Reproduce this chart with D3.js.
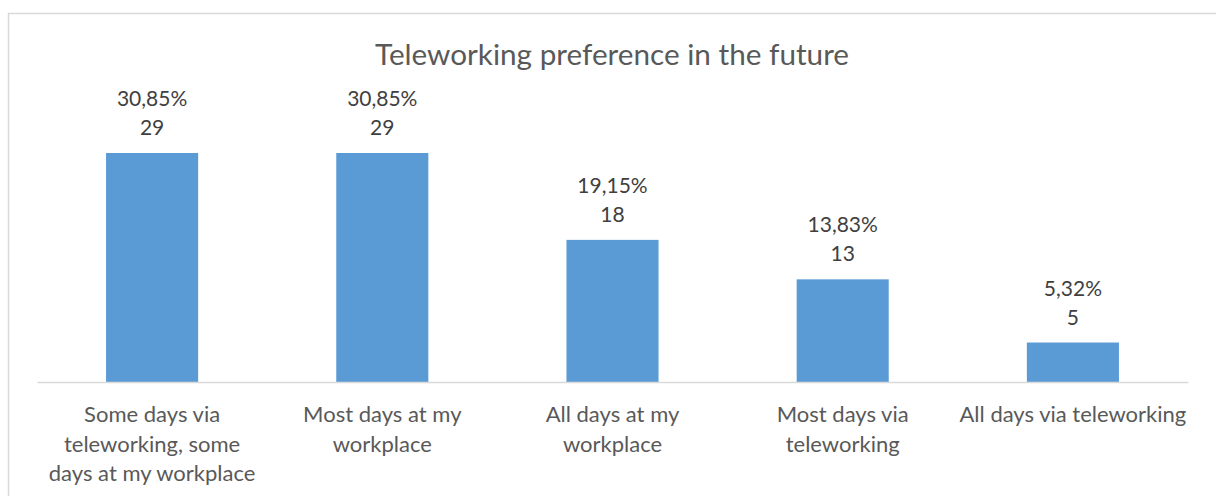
<!DOCTYPE html>
<html>
<head>
<meta charset="utf-8">
<script src="https://cdn.jsdelivr.net/npm/d3@7"></script>
<style>
  html, body { margin: 0; padding: 0; background: #fff; }
  svg { display: block; }
</style>
</head>
<body>
<svg id="chart" width="1216" height="496"></svg>
<script>
// Survey answers: preferred working arrangement in the future
const categories = [
  "Some days via teleworking, some days at my workplace",
  "Most days at my workplace",
  "All days at my workplace",
  "Most days via teleworking",
  "All days via teleworking"
];
const categoryLines = [
  ["Some days via", "teleworking, some", "days at my workplace"],
  ["Most days at my", "workplace"],
  ["All days at my", "workplace"],
  ["Most days via", "teleworking"],
  ["All days via teleworking"]
];
const counts = [29, 29, 18, 13, 5];
const percents = [30.85, 30.85, 19.15, 13.83, 5.32];
const title = "Teleworking preference in the future";

const svg = d3.select("#chart");
const font = "Lato, 'Open Sans', sans-serif";

// chart frame
svg.append("rect")
  .attr("x", 8.5).attr("y", 13.5)
  .attr("width", 1220).attr("height", 500)
  .attr("fill", "#fff")
  .attr("stroke", "#d9d9d9").attr("stroke-width", 1.5);

const plot = { left: 37, right: 1188, top: 153, bottom: 382 };

const x = d3.scaleBand()
  .domain(categories)
  .range([plot.left, plot.right])
  .paddingInner(0.6)
  .paddingOuter(0.3);

const y = d3.scaleLinear()
  .domain([0, d3.max(counts)])
  .range([plot.bottom, plot.top]);

const data = categories.map((c, i) => ({
  cat: c, lines: categoryLines[i], count: counts[i], pct: percents[i]
}));

// title
svg.append("text")
  .attr("x", 612).attr("y", 65)
  .attr("text-anchor", "middle")
  .attr("font-family", font)
  .attr("font-size", 29.7)
  .attr("fill", "#595959")
  .text(title);

// bars
svg.append("g").selectAll("rect")
  .data(data)
  .join("rect")
  .attr("x", d => x(d.cat))
  .attr("y", d => y(d.count))
  .attr("width", x.bandwidth())
  .attr("height", d => y(0) - y(d.count))
  .attr("fill", "#5b9bd5");

// category axis
const axis = svg.append("g")
  .attr("transform", `translate(0,${plot.bottom})`)
  .call(d3.axisBottom(x).tickSize(0).tickFormat(""));
axis.select(".domain")
  .attr("stroke", "#d9d9d9")
  .attr("stroke-width", 1.5);

const labels = svg.append("g").selectAll("text")
  .data(data)
  .join("text")
  .attr("text-anchor", "middle")
  .attr("font-family", font)
  .attr("font-size", 22)
  .attr("fill", "#595959");
labels.selectAll("tspan")
  .data(d => d.lines.map(l => ({ l, cx: x(d.cat) + x.bandwidth() / 2 })))
  .join("tspan")
  .attr("x", t => t.cx)
  .attr("y", (t, i) => plot.bottom + 40 + i * 29.5)
  .text(t => t.l);

// data labels: percentage and count
const fmtPct = v => d3.format(".2f")(v).replace(".", ",") + "%";
const dl = svg.append("g").selectAll("g")
  .data(data)
  .join("g")
  .attr("font-family", font)
  .attr("font-size", 21)
  .attr("fill", "#404040")
  .attr("text-anchor", "middle");
dl.append("text")
  .attr("x", d => x(d.cat) + x.bandwidth() / 2)
  .attr("y", d => y(d.count) - 47)
  .text(d => fmtPct(d.pct));
dl.append("text")
  .attr("x", d => x(d.cat) + x.bandwidth() / 2)
  .attr("y", d => y(d.count) - 18)
  .text(d => d.count);
</script>
</body>
</html>
